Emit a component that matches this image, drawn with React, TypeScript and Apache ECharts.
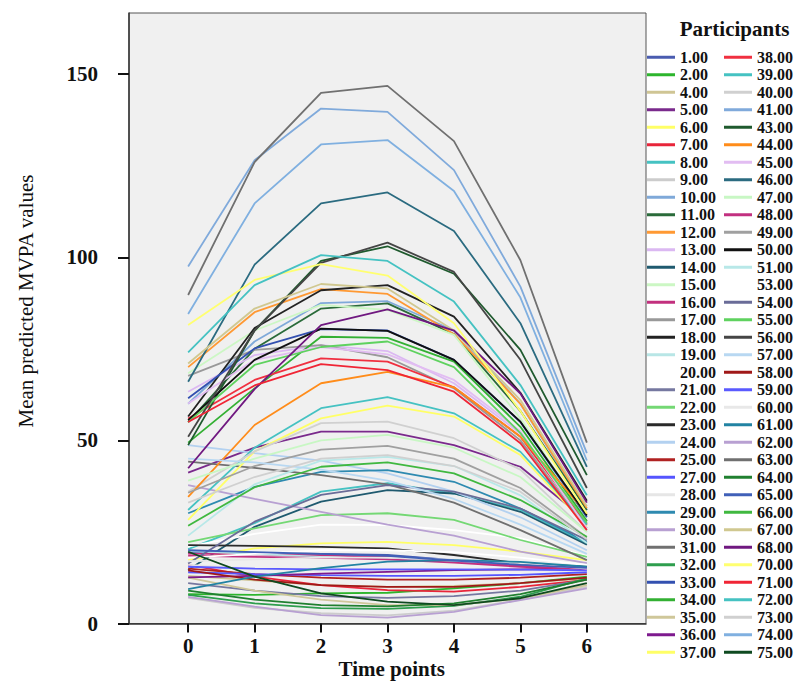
import React, { useEffect, useRef } from "react";
import * as echarts from "echarts";

const timePoints = [0, 1, 2, 3, 4, 5, 6];
const yTicks = [0, 50, 100, 150];

const participants = [1, 2, 4, 5, 6, 7, 8, 9, 10, 11, 12, 13, 14, 15, 16, 17, 18, 19, 20, 21, 22, 23, 24, 25, 27, 28, 29, 30, 31, 32, 33, 34, 35, 36, 37,
  38, 39, 40, 41, 43, 44, 45, 46, 47, 48, 49, 50, 51, 53, 54, 55, 56, 57, 58, 59, 60, 61, 62, 63, 64, 65, 66, 67, 68, 70, 71, 72, 73, 74, 75];

const P1 = [19.3, 19.2, 19, 18.7, 17.3, 16, 15.1];
const P2 = [8, 7.8, 8.2, 8.4, 9.6, 11, 12.8];
const P4 = [13, 11.8, 10.5, 10, 10.3, 11, 12.3];
const P5 = [41.2, 48, 52.4, 52.4, 48.7, 42.8, 28];
const P6 = [17.3, 20.5, 21.9, 22.3, 21.4, 19.6, 17.3];
const P7 = [16, 12.8, 10.5, 9.1, 8.7, 10, 11.9];
const P8 = [20.3, 27.4, 36, 38.3, 35.5, 31, 21.9];
const P9 = [7, 4.3, 2.8, 2.2, 3.5, 6.5, 10];
const P10 = [60, 77, 87.5, 88, 80, 60, 31];
const P11 = [55, 75, 86, 87.4, 79, 58, 31];
const P12 = [70, 85, 91.3, 90, 79, 60, 31.5];
const P13 = [63.3, 73.3, 76, 74.4, 65.6, 51.9, 27];
const P14 = [14.6, 26.4, 33.3, 36.4, 35.5, 30.5, 21.5];
const P15 = [68.3, 80, 87, 85.6, 78.8, 56, 29];
const P16 = [19.1, 18.9, 18.6, 18.2, 17, 15.8, 15];
const P17 = [67.6, 74.7, 76, 72.7, 64.2, 50, 26];
const P18 = [56.5, 80.7, 91, 92.4, 83.8, 63, 33.5];
const P19 = [19.8, 19, 18.2, 17.5, 17, 16.4, 14.6];
const P20 = [21, 24.5, 27, 26.9, 25.5, 23.3, 18.4];
const P21 = [11, 9, 7.5, 7, 7.5, 9, 12];
const P22 = [22.2, 26, 29.6, 30.1, 28.3, 22.8, 18.2];
const P23 = [21.4, 21.2, 20.9, 20.5, 18.7, 16.4, 15.5];
const P24 = [48.7, 46.5, 44.5, 41, 36, 29, 20];
const P25 = [15, 13.5, 12.5, 12, 12, 12.5, 13.5];
const P27 = [14, 13.5, 13.2, 13, 13, 13.3, 14];
const P28 = [16, 15, 14.5, 14.5, 14.5, 14.5, 14.5];
const P29 = [30.1, 37.3, 41.4, 41.9, 38.7, 31.4, 22.3];
const P30 = [37.8, 34, 30.5, 27, 24, 19.6, 16.5];
const P31 = [44.2, 42.5, 40.5, 38, 33, 25.5, 17.3];
const P32 = [7.8, 5.5, 4.2, 4, 4.8, 7.3, 12.3];
const P33 = [61.5, 75.1, 80.4, 80, 72, 55, 29];
const P34 = [49.4, 64.2, 78.3, 78, 71.5, 53.7, 28];
const P35 = [12.5, 9, 6.5, 5, 5, 6.8, 10.5];
const P36 = [12.6, 13, 13.6, 14.1, 14.6, 14.8, 15.1];
const P37 = [28.3, 47, 56, 59.5, 56.5, 46, 26.5];
const P38 = [56, 66.5, 72.4, 71.5, 64.5, 51, 27];
const P39 = [31, 48, 58.8, 61.8, 57.4, 46.9, 27];
const P40 = [36, 47, 54.7, 55.1, 50.6, 42, 25];
const P41 = [97.5, 126.5, 140.6, 139.7, 123.8, 92, 46.5];
const P43 = [48.7, 80, 99, 103, 95.5, 74.7, 40.5];
const P44 = [34.6, 54.2, 65.6, 68.7, 64.5, 51, 30];
const P45 = [60.1, 72, 75.5, 73.5, 66.5, 52.5, 26];
const P46 = [66, 98, 114.7, 117.7, 107.2, 82, 42.8];
const P47 = [39, 45, 50, 51.5, 48, 40, 25];
const P48 = [18.5, 18.2, 17.9, 17.5, 16.6, 15.5, 14.8];
const P49 = [35.7, 43, 47.5, 48.5, 45, 37, 23.5];
const P50 = [55.5, 72, 80.5, 79.9, 72, 55.1, 29.5];
const P51 = [24, 38, 44.5, 45.5, 43, 35, 22];
const P53 = [18, 19, 20, 20, 19.5, 18, 16];
const P54 = [16.4, 27.8, 35.1, 37.8, 36, 31.4, 22.8];
const P55 = [55, 70.6, 75.5, 77, 70, 52, 27.5];
const P56 = [51, 80, 98.5, 104, 96, 72, 37];
const P57 = [45, 44, 42, 39, 34, 27, 19];
const P58 = [14.5, 12, 10.5, 10, 10, 11, 12.5];
const P59 = [15.5, 15, 14.8, 14.8, 14.8, 14.7, 14.5];
const P60 = [17, 17.5, 18, 18, 17.5, 16.5, 15];
const P61 = [9.4, 12.8, 15.1, 16.9, 17.3, 16.8, 15.5];
const P62 = [7.3, 4.6, 2.3, 1.6, 3.2, 6.4, 9.6];
const P63 = [89.7, 126, 144.9, 146.8, 131.7, 99.2, 49.4];
const P64 = [9, 6.5, 5, 4.7, 5.5, 8, 12];
const P65 = [20, 19.5, 19, 18.5, 17.2, 16, 15.2];
const P66 = [26.7, 37.2, 42.8, 44, 41, 33.7, 23.7];
const P67 = [71, 86, 92.7, 91.5, 80, 61, 32];
const P68 = [42.4, 64, 81.5, 85.8, 80, 62.8, 33];
const P70 = [81.5, 93.8, 98.1, 95, 82, 58, 30];
const P71 = [55, 65, 70.8, 69.2, 63.3, 49.2, 25.5];
const P72 = [74, 92.4, 100.6, 99, 87.9, 65.1, 35];
const P73 = [33, 40, 45, 46, 43, 36, 23];
const P74 = [84.5, 114.7, 130.8, 132, 118.1, 89, 44.5];
const P75 = [19.6, 12.8, 8.2, 6, 5, 6.9, 11];

const seriesValues = [P1, P2, P4, P5, P6, P7, P8, P9, P10, P11, P12, P13, P14, P15, P16, P17, P18, P19, P20, P21, P22, P23, P24, P25, P27, P28, P29, P30, P31, P32, P33, P34, P35, P36, P37,
  P38, P39, P40, P41, P43, P44, P45, P46, P47, P48, P49, P50, P51, P53, P54, P55, P56, P57, P58, P59, P60, P61, P62, P63, P64, P65, P66, P67, P68, P70, P71, P72, P73, P74, P75];

const palette = [
  "#4a5cb0", "#2db52d", "#cfc594", "#7a2a8c", "#ffff66", "#e8253a", "#45c2c2", "#cccccc", "#7fa9d9", "#2a6b3a",
  "#ff9933", "#dbb8f2", "#1f5a6f", "#ccf7c4", "#c2307e", "#999999", "#222222", "#b8e6e6", "#ffffff", "#7678a0",
  "#74d874", "#2a2a2a", "#b3d1f0", "#b02222", "#5555ff", "#e6e6e6", "#2e8ab0", "#b8a0d2", "#707070", "#2e9e4e",
  "#3350b0", "#33b033", "#cfc79a", "#7e1a8e", "#ffff66",
  "#f03040", "#45c2c2", "#d0d0d0", "#80aadb", "#1f5a2e", "#ff8c1a", "#e2bdf2", "#2b6b80", "#c8f7c4", "#c23080",
  "#a0a0a0", "#111111", "#b8e8e8", "#ffffff", "#6a6c98", "#5fd25f", "#454545", "#b8d8f2", "#a01818", "#5a5aff",
  "#e8e8e8", "#2283a3", "#b8a0d2", "#707070", "#208030", "#4060b8", "#40b840", "#d0c890", "#701880", "#ffff70",
  "#f02535", "#45c2c2", "#d0d0d0", "#80b0e0", "#0f4a20",
];

const FONT = "'Liberation Serif', 'Times New Roman', serif";

export default function App() {
  const ref = useRef<HTMLDivElement>(null);
  useEffect(() => {
    if (!ref.current) return;
    const chart = echarts.init(ref.current, null, { renderer: "svg" });
    const names = participants.map((p) => p.toFixed(2));
    const series = names.map((name, i) => ({
      name,
      type: "line",
      showSymbol: false,
      symbol: "none",
      color: palette[i],
      lineStyle: { color: palette[i], width: 1.8 },
      itemStyle: { color: palette[i] },
      data: timePoints.map((t, j) => [t, seriesValues[i][j]]),
      silent: true,
    }));
    const legendBase = {
      orient: "vertical",
      top: 48.5,
      padding: 0,
      itemGap: 0,
      itemWidth: 28,
      itemHeight: 3,
      icon: "rect",
      selectedMode: false,
      textStyle: { fontFamily: FONT, fontWeight: "bold", fontSize: 16, color: "#111", lineHeight: 17.5 },
    };
    chart.setOption({
      animation: false,
      backgroundColor: "#ffffff",
      grid: {
        left: 129,
        right: 151,
        top: 13,
        bottom: 58.5,
        show: true,
        backgroundColor: "#f0f0f0",
        borderColor: "#555",
        borderWidth: 1,
      },
      xAxis: {
        type: "value",
        min: -0.89,
        max: 6.89,
        splitLine: { show: false },
        axisLine: { show: true, onZero: false, lineStyle: { color: "#333", width: 1.5 } },
        axisTick: { show: true, length: 9, customValues: timePoints, lineStyle: { color: "#111", width: 2 } },
        axisLabel: {
          customValues: timePoints,
          margin: 12,
          fontFamily: FONT,
          fontWeight: "bold",
          fontSize: 21,
          color: "#111",
        },
      },
      yAxis: {
        type: "value",
        min: 0,
        max: 166.7,
        splitLine: { show: false },
        axisLine: { show: true, onZero: false, lineStyle: { color: "#333", width: 1.5 } },
        axisTick: { show: true, length: 11, customValues: yTicks, lineStyle: { color: "#111", width: 2 } },
        axisLabel: {
          customValues: yTicks,
          margin: 31,
          fontFamily: FONT,
          fontWeight: "bold",
          fontSize: 21,
          color: "#111",
        },
      },
      legend: [
        { ...legendBase, left: 647, data: names.slice(0, 35) },
        { ...legendBase, left: 724, data: names.slice(35) },
      ],
      graphic: [
        {
          type: "text",
          x: 26,
          y: 301,
          rotation: Math.PI / 2,
          style: {
            text: "Mean predicted MVPA values",
            fontFamily: FONT,
            fontSize: 21,
            fill: "#111",
            align: "center",
            verticalAlign: "middle",
          },
        },
        {
          type: "text",
          x: 391.7,
          y: 669,
          style: {
            text: "Time points",
            fontFamily: FONT,
            fontSize: 21,
            fontWeight: "bold",
            fill: "#111",
            align: "center",
            verticalAlign: "middle",
          },
        },
        {
          type: "text",
          x: 734.5,
          y: 28.5,
          style: {
            text: "Participants",
            fontFamily: FONT,
            fontSize: 21,
            fontWeight: "bold",
            fill: "#111",
            align: "center",
            verticalAlign: "middle",
          },
        },
      ],
      series,
    });
    return () => chart.dispose();
  }, []);
  return <div ref={ref} style={{ position: "absolute", left: 0, top: 0, width: 797, height: 682 }} />;
}
